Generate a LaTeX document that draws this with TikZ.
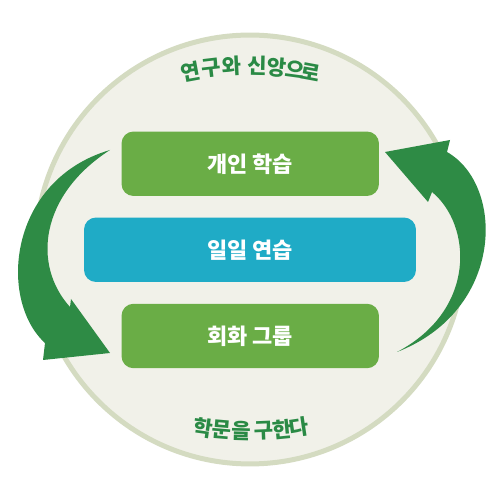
\documentclass[tikz,border=0pt]{standalone}
\usepackage{fontspec}
\newfontfamily\kr{Noto Sans CJK KR}
\definecolor{ringfill}{HTML}{F1F1E9}
\definecolor{ringedge}{HTML}{D4DBC1}
\definecolor{arrowgreen}{HTML}{2E8B45}
\definecolor{boxgreen}{HTML}{6AAD46}
\definecolor{boxblue}{HTML}{1FABC6}
\definecolor{labelgreen}{HTML}{2A8A45}
\begin{document}
\begin{tikzpicture}[x=0.02cm,y=0.02cm,
  stagebox/.style={rounded corners=0.24cm, minimum height=1.29cm, text=white,
    font=\kr\bfseries\fontsize{12.5}{14}\selectfont, inner sep=0pt},
  arcglyph/.style={text=labelgreen, font=\kr\bfseries\fontsize{12}{14}\selectfont, inner sep=0pt},
  bigarrow/.style={fill=arrowgreen, draw=none}]
\useasboundingbox (0,0) rectangle (500,500);
% background disc
\draw[fill=ringfill, draw=ringedge, line width=0.1cm] (250,250.5) circle[radius=4.29cm];
% boxes
\node[stagebox, fill=boxgreen, minimum width=5.15cm] (study) at (250.25,336.25) {개인 학습};
\node[stagebox, fill=boxblue, minimum width=6.64cm] (daily) at (250,250.25) {일일 연습};
\node[stagebox, fill=boxgreen, minimum width=5.15cm] (group) at (250.25,164) {회화 그룹};
% top curved label
\coordinate (topc) at (250,104);
\foreach \s/\g [count=\i, evaluate=\s as \ang using 90-\s/330*57.2958, evaluate=\s as \rot using -\s/330*57.2958] in
  {-60/연,-39/구,-18/와,7/신,27/앙,45/으,61/로}
  \node[arcglyph, rotate=\rot] (top\i) at ([shift={(\ang:6.6cm)}]topc) {\g};
% bottom curved label
\coordinate (botc) at (250,399);
\foreach \s/\g [count=\i, evaluate=\s as \ang using -90+\s/330*57.2958, evaluate=\s as \rot using \s/330*57.2958] in
  {-47/학,-28/문,-9/을,14/구,32/한,49/다}
  \node[arcglyph, rotate=\rot] (bot\i) at ([shift={(\ang:6.6cm)}]botc) {\g};
% left arrow (downwards)
\coordinate (ltail) at (110,350);
\coordinate (ltip) at (110,147);
\fill[bigarrow] (ltail) .. controls (8,320) and (-2,200) .. (45,157)
  -- (43,140) -- (ltip) -- (71,201) -- (70,193)
  .. controls (32,235) and (40,305) .. (ltail) -- cycle;
% right arrow (upwards)
\coordinate (rtail) at (397,148);
\coordinate (rtip) at (385,348);
\fill[bigarrow] (rtail) .. controls (505,190) and (505,315) .. (447,348)
  -- (450,360) -- (rtip) -- (428,298) -- (432,308)
  .. controls (472,275) and (477,190) .. (rtail) -- cycle;
\end{tikzpicture}
\end{document}
